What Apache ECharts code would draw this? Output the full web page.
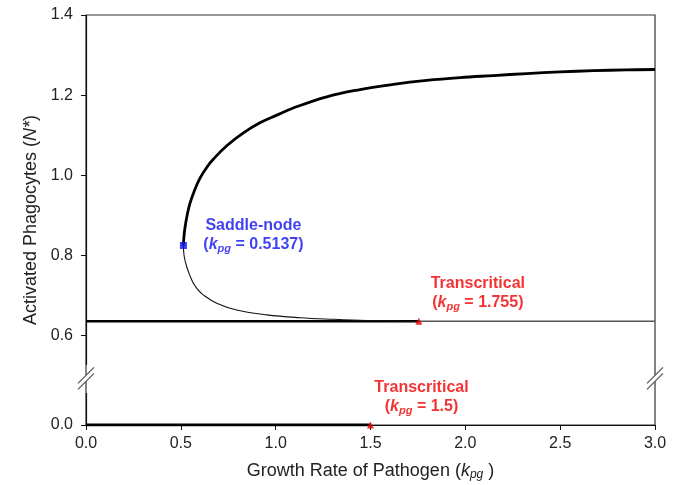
<!DOCTYPE html>
<html>
<head>
<meta charset="utf-8">
<script src="https://cdn.jsdelivr.net/npm/echarts@6/dist/echarts.min.js"></script>
<style>html,body{margin:0;padding:0;background:#fff}#chart{width:681px;height:485px}</style>
</head>
<body>
<div id="chart"></div>
<script>
// Upper (stable) branch of the activated-phagocyte equilibrium, from the saddle-node upward
const kUpper = [0.5137, 0.516, 0.522, 0.533, 0.548, 0.570, 0.601, 0.640, 0.671, 0.742, 0.830, 0.917, 1.000, 1.093, 1.269, 1.445, 1.620, 1.796, 1.972, 2.148, 2.323, 2.499, 2.675, 2.850, 3.000];
const nUpper = [0.825, 0.845, 0.870, 0.900, 0.930, 0.960, 0.993, 1.022, 1.040, 1.074, 1.106, 1.131, 1.149, 1.168, 1.196, 1.214, 1.227, 1.237, 1.244, 1.249, 1.254, 1.258, 1.261, 1.263, 1.264];
// Lower (unstable) branch, from the saddle-node down to the transcritical point
const kLower = [0.5137, 0.517, 0.531, 0.548, 0.566, 0.590, 0.618, 0.689, 0.795, 0.953, 1.128, 1.304, 1.480, 1.620, 1.755];
const nLower = [0.825, 0.800, 0.772, 0.750, 0.731, 0.715, 0.702, 0.681, 0.664, 0.652, 0.645, 0.641, 0.638, 0.637, 0.636];
// Constant equilibrium N* = 0.636: stable left of the transcritical point, unstable right of it
const kPlateauStable = [0, 1.755];
const kPlateauUnstable = [1.755, 3.0];
const nPlateau = 0.636;
// Pathogen-free equilibrium N* = 0, stable up to kpg = 1.5
const kZeroStable = [0, 1.5];
const nZero = 0;
// Bifurcation points
const saddleNode = [0.5137, 0.825];
const transcriticalHigh = [1.755, 0.636];
const transcriticalLow = [1.5, 0];
// Axis ticks
const xTicks = [0, 0.5, 1.0, 1.5, 2.0, 2.5, 3.0];
const yTicks = [0, 0.6, 0.8, 1.0, 1.2, 1.4];
// Broken stretch of the N* axis
const yBreak = { start: 0.08, end: 0.53, gap: 0.0727 };

const FONT = '"Liberation Sans", Arial, sans-serif';
const BLUE = '#1010f0';
const RED = '#f00000';

function pairs(xs, ys) { return xs.map((x, i) => [x, Array.isArray(ys) ? ys[i] : ys]); }

function noteRich(color) {
  return {
    t: { fontFamily: FONT, fontWeight: 'bold', fontSize: 16, color: color, lineHeight: 19 },
    k: { fontFamily: FONT, fontWeight: 'bold', fontStyle: 'italic', fontSize: 16, color: color, lineHeight: 19 },
    s: { fontFamily: FONT, fontWeight: 'bold', fontStyle: 'italic', fontSize: 11, color: color, lineHeight: 7, verticalAlign: 'bottom' }
  };
}
function noteText(title, value) {
  return '{t|' + title + '}\n{t|(}{k|k}{s|pg}{t| = ' + value + ')}';
}

const chart = echarts.init(document.getElementById('chart'), null, { renderer: 'canvas' });

chart.setOption({
  backgroundColor: '#fff',
  animation: false,
  grid: {
    left: 86, right: 26, top: 15, bottom: 60,
    show: true, borderColor: '#333', borderWidth: 1.2,
    outerBoundsMode: 'none'
  },
  xAxis: {
    type: 'value', min: 0, max: 3, interval: 0.5,
    name: 'Growth Rate of Pathogen ({k|k}{s|pg} )',
    nameLocation: 'middle', nameGap: 36,
    nameTextStyle: {
      fontFamily: FONT, fontSize: 18, color: '#222', lineHeight: 20,
      rich: {
        k: { fontFamily: FONT, fontStyle: 'italic', fontSize: 18, color: '#222', lineHeight: 20 },
        s: { fontFamily: FONT, fontStyle: 'italic', fontSize: 12, color: '#222', lineHeight: 8, verticalAlign: 'bottom' }
      }
    },
    axisLine: { lineStyle: { color: '#111', width: 1.2 } },
    axisTick: { show: true, inside: false, length: 5, lineStyle: { color: '#111' }, customValues: xTicks },
    axisLabel: {
      customValues: xTicks, margin: 11,
      fontFamily: FONT, fontSize: 16, color: '#222',
      formatter: v => v.toFixed(1)
    },
    splitLine: { show: false }
  },
  yAxis: {
    type: 'value', min: 0, max: 1.4,
    breaks: [yBreak],
    breakArea: { show: false },
    name: 'Activated Phagocytes ({i|N*})',
    nameLocation: 'middle', nameGap: 45,
    nameTextStyle: {
      fontFamily: FONT, fontSize: 18, color: '#222',
      rich: { i: { fontFamily: FONT, fontStyle: 'italic', fontSize: 18, color: '#222' } }
    },
    axisLine: { lineStyle: { color: '#111', width: 1.2 } },
    axisTick: { show: true, inside: false, length: 5, lineStyle: { color: '#111' }, customValues: yTicks },
    axisLabel: {
      customValues: yTicks, margin: 13,
      fontFamily: FONT, fontSize: 16, color: '#222',
      formatter: v => v.toFixed(1)
    },
    splitLine: { show: false }
  },
  series: [
    {
      name: 'upper', type: 'line', data: pairs(kUpper, nUpper),
      smooth: 0.4, showSymbol: false,
      lineStyle: { color: '#000', width: 2.8 }, z: 3
    },
    {
      name: 'lower', type: 'line', data: pairs(kLower, nLower),
      smooth: 0.4, showSymbol: false,
      lineStyle: { color: '#111', width: 1.1 }, z: 3
    },
    {
      name: 'plateauStable', type: 'line', data: pairs(kPlateauStable, nPlateau),
      showSymbol: false, lineStyle: { color: '#000', width: 2.6 }, z: 2
    },
    {
      name: 'plateauUnstable', type: 'line', data: pairs(kPlateauUnstable, nPlateau),
      showSymbol: false, lineStyle: { color: '#555', width: 1.4 }, z: 2
    },
    {
      name: 'zeroStable', type: 'line', data: pairs(kZeroStable, nZero),
      showSymbol: false, lineStyle: { color: '#000', width: 2.8 }, z: 2
    },
    {
      name: 'saddleNode', type: 'scatter', data: [saddleNode],
      symbol: 'rect', symbolSize: 7, itemStyle: { color: BLUE }, z: 5,
      label: {
        show: true, position: 'inside', offset: [70, -10],
        align: 'center', verticalAlign: 'middle',
        formatter: () => noteText('Saddle-node', '0.5137'),
        rich: noteRich(BLUE)
      }
    },
    {
      name: 'transcriticalHigh', type: 'scatter', data: [transcriticalHigh],
      symbol: 'triangle', symbolSize: 7, itemStyle: { color: RED }, z: 5,
      label: {
        show: true, position: 'inside', offset: [59, -28],
        align: 'center', verticalAlign: 'middle',
        formatter: () => noteText('Transcritical', '1.755'),
        rich: noteRich(RED)
      }
    },
    {
      name: 'transcriticalLow', type: 'scatter', data: [transcriticalLow],
      symbol: 'triangle', symbolSize: 7, itemStyle: { color: RED }, z: 5,
      label: {
        show: true, position: 'inside', offset: [51, -28],
        align: 'center', verticalAlign: 'middle',
        formatter: () => noteText('Transcritical', '1.5'),
        rich: noteRich(RED)
      }
    }
  ]
});

// Draw the "//" axis-break marks on both vertical edges of the plot
(function drawBreakMarks() {
  const yA = chart.convertToPixel({ yAxisIndex: 0 }, yBreak.start);
  const yB = chart.convertToPixel({ yAxisIndex: 0 }, yBreak.end);
  const cy = (yA + yB) / 2;
  const xs = [chart.convertToPixel({ xAxisIndex: 0 }, xTicks[0]),
              chart.convertToPixel({ xAxisIndex: 0 }, xTicks[xTicks.length - 1])];
  const els = [];
  xs.forEach(cx => {
    els.push({
      type: 'polygon', z: 100, silent: true,
      shape: { points: [[cx - 8, cy + 5], [cx + 8, cy - 11], [cx + 8, cy - 5], [cx - 8, cy + 11]] },
      style: { fill: '#fff' }
    });
    [-3, 3].forEach(d => {
      els.push({
        type: 'line', z: 101, silent: true,
        shape: { x1: cx - 8, y1: cy + 8 + d, x2: cx + 8, y2: cy - 8 + d },
        style: { stroke: '#555', lineWidth: 1.3 }
      });
    });
  });
  chart.setOption({ graphic: els });
})();
</script>
</body>
</html>
